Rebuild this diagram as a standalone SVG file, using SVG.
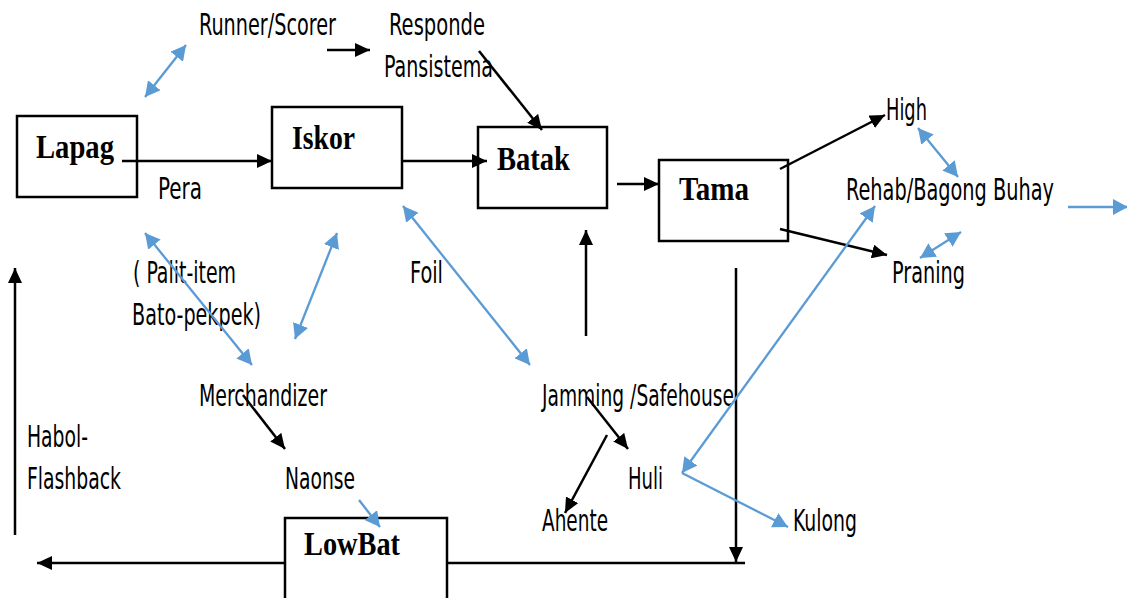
<svg xmlns="http://www.w3.org/2000/svg" width="1127" height="598" viewBox="0 0 1127 598">
<defs>
<style>
.box{fill:#fff;stroke:#000;stroke-width:2.5}
.t{font-family:"Liberation Sans Narrow","DejaVu Sans Condensed","Liberation Sans",sans-serif;font-size:30px;fill:#000}
.b{font-family:"Liberation Serif","Times New Roman",serif;font-size:34px;font-weight:bold;fill:#000}
.k{stroke:#000;stroke-width:2.5;fill:none;marker-end:url(#ak)}
.kn{stroke:#000;stroke-width:2.5;fill:none}
.u{stroke:#5B9BD5;stroke-width:2.3;fill:none;marker-end:url(#ab)}
.d{stroke:#5B9BD5;stroke-width:2.3;fill:none;marker-start:url(#ab);marker-end:url(#ab)}
</style>
<marker id="ak" markerUnits="userSpaceOnUse" markerWidth="16" markerHeight="14" refX="15" refY="7" orient="auto-start-reverse"><path d="M0,0 L15,7 L0,14 z" fill="#000"/></marker>
<marker id="ab" markerUnits="userSpaceOnUse" markerWidth="16" markerHeight="16" refX="15" refY="8" orient="auto-start-reverse"><path d="M0,0 L15,8 L0,16 z" fill="#5B9BD5"/></marker>
</defs>
<rect width="1127" height="598" fill="#fff"/>
<g id="node-lapag"><rect class="box" x="17" y="116" width="120" height="81"/><text class="b" x="36" y="158" textLength="78" lengthAdjust="spacingAndGlyphs">Lapag</text></g>
<g id="node-iskor"><rect class="box" x="272" y="107" width="130" height="81"/><text class="b" x="292" y="149" textLength="63" lengthAdjust="spacingAndGlyphs">Iskor</text></g>
<g id="node-batak"><rect class="box" x="478" y="127" width="129" height="81"/><text class="b" x="497" y="170" textLength="73" lengthAdjust="spacingAndGlyphs">Batak</text></g>
<g id="node-tama"><rect class="box" x="659" y="160" width="129" height="81"/><text class="b" x="679" y="200" textLength="70" lengthAdjust="spacingAndGlyphs">Tama</text></g>
<g id="node-lowbat"><rect class="box" x="285" y="518" width="162" height="92"/><text class="b" x="304" y="555" textLength="96" lengthAdjust="spacingAndGlyphs">LowBat</text></g>
<g id="node-runner"><text class="t" x="199" y="35" textLength="137" lengthAdjust="spacingAndGlyphs">Runner/Scorer</text></g>
<g id="node-responde"><text class="t" x="389" y="35" textLength="96" lengthAdjust="spacingAndGlyphs">Responde</text><text class="t" x="384" y="77" textLength="109" lengthAdjust="spacingAndGlyphs">Pansistema</text></g>
<g id="node-pera"><text class="t" x="158" y="199" textLength="44" lengthAdjust="spacingAndGlyphs">Pera</text></g>
<g id="node-high"><text class="t" x="886" y="120" textLength="41" lengthAdjust="spacingAndGlyphs">High</text></g>
<g id="node-rehab"><text class="t" x="846" y="200" textLength="208" lengthAdjust="spacingAndGlyphs">Rehab/Bagong Buhay</text></g>
<g id="node-praning"><text class="t" x="892" y="283" textLength="73" lengthAdjust="spacingAndGlyphs">Praning</text></g>
<g id="node-palit"><text class="t" x="133" y="283" textLength="103" lengthAdjust="spacingAndGlyphs">( Palit-item</text><text class="t" x="132" y="325" textLength="129" lengthAdjust="spacingAndGlyphs">Bato-pekpek)</text></g>
<g id="node-foil"><text class="t" x="410" y="283" textLength="33" lengthAdjust="spacingAndGlyphs">Foil</text></g>
<g id="node-merchandizer"><text class="t" x="199" y="406" textLength="128" lengthAdjust="spacingAndGlyphs">Merchandizer</text></g>
<g id="node-jamming"><text class="t" x="542" y="406" textLength="192" lengthAdjust="spacingAndGlyphs">Jamming /Safehouse</text></g>
<g id="node-habol"><text class="t" x="27" y="447" textLength="61" lengthAdjust="spacingAndGlyphs">Habol-</text><text class="t" x="27" y="489" textLength="94" lengthAdjust="spacingAndGlyphs">Flashback</text></g>
<g id="node-naonse"><text class="t" x="285" y="489" textLength="70" lengthAdjust="spacingAndGlyphs">Naonse</text></g>
<g id="node-huli"><text class="t" x="628" y="489" textLength="35" lengthAdjust="spacingAndGlyphs">Huli</text></g>
<g id="node-ahente"><text class="t" x="542" y="531" textLength="66" lengthAdjust="spacingAndGlyphs">Ahente</text></g>
<g id="node-kulong"><text class="t" x="793" y="531" textLength="64" lengthAdjust="spacingAndGlyphs">Kulong</text></g>
<g id="connectors">
<line class="k" x1="327" y1="50" x2="370" y2="50"/>
<line class="k" x1="479" y1="51" x2="542" y2="130"/>
<line class="k" x1="122" y1="161" x2="272" y2="161"/>
<line class="k" x1="402" y1="161" x2="487" y2="161"/>
<line class="k" x1="617" y1="184" x2="659" y2="184"/>
<line class="k" x1="780" y1="169" x2="885" y2="115"/>
<line class="k" x1="780" y1="229" x2="887" y2="255"/>
<line class="k" x1="586" y1="336" x2="586" y2="230"/>
<line class="k" x1="736" y1="268" x2="736" y2="562"/>
<line class="kn" x1="745" y1="563" x2="447" y2="563"/>
<line class="k" x1="285" y1="563" x2="37" y2="563"/>
<line class="k" x1="15" y1="535" x2="15" y2="268"/>
<line class="k" x1="243" y1="395" x2="285" y2="449"/>
<line class="k" x1="587" y1="397" x2="628" y2="449"/>
<line class="k" x1="607" y1="435" x2="565" y2="513"/>
<line class="d" x1="145" y1="97" x2="186" y2="45"/>
<line class="d" x1="145" y1="233" x2="252" y2="365"/>
<line class="d" x1="337" y1="233" x2="295" y2="339"/>
<line class="d" x1="403" y1="206" x2="530" y2="365"/>
<line class="d" x1="918" y1="128" x2="958" y2="177"/>
<line class="d" x1="920" y1="258" x2="961" y2="232"/>
<line class="u" x1="1068" y1="207" x2="1128" y2="207"/>
<line class="d" x1="682" y1="473" x2="875" y2="206"/>
<line class="u" x1="682" y1="473" x2="788" y2="527"/>
<line class="u" x1="359" y1="500" x2="380" y2="527"/>
</g>
</svg>
